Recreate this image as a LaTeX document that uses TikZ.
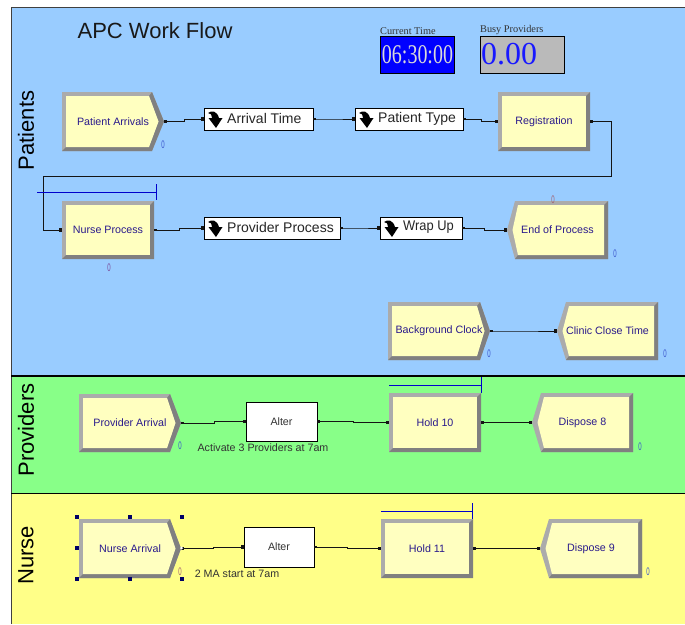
\documentclass[tikz,border=0pt]{standalone}
\usepackage{fontspec}
\setmainfont{Liberation Sans}
\newfontfamily\timesf{Liberation Serif}
\usetikzlibrary{arrows.meta}
\definecolor{panelblue}{HTML}{99CCFF}
\definecolor{panelgreen}{HTML}{88FF88}
\definecolor{panelyellow}{HTML}{FFFF88}
\definecolor{blockyellow}{HTML}{FFFFC0}
\definecolor{bevlight}{HTML}{ABABAB}
\definecolor{bevdark}{HTML}{808080}
\definecolor{blocktext}{HTML}{2A1A8C}
\definecolor{wire}{HTML}{141414}
\definecolor{countblue}{HTML}{3A55CC}
\definecolor{countpurple}{HTML}{7A4A9A}
\definecolor{countred}{HTML}{A06070}
\tikzset{
  blocklabel/.style={inner sep=0pt,outer sep=0pt,font=\fontsize{10.7}{12}\selectfont,text=blocktext},
  databox/.style={draw=black,line width=0.8pt,fill=white,inner sep=0pt,outer sep=0pt},
  alterbox/.style={draw=black,line width=0.8pt,fill=white,inner sep=0pt,outer sep=0pt,font=\fontsize{10.7}{12}\selectfont,text=black!80},
  lanelabel/.style={rotate=90,font=\fontsize{22}{26}\selectfont,text=black,inner sep=0pt},
  notetext/.style={font=\fontsize{10.7}{12}\selectfont,text=black!80,inner sep=0pt},
  toplabel/.style={font=\timesf\fontsize{10.3}{12}\selectfont,text=black!80,inner sep=0pt,anchor=south west},
  wireline/.style={draw=wire,line width=0.95pt,{Square[length=2.5pt,width=2.5pt]}-{Square[length=3.5pt,width=3.5pt]}},
  queueline/.style={draw=blue!80!black,line width=0.9pt},
  handle/.style={fill=blue!40!black,minimum size=3.6pt,inner sep=0pt},
  counterblue/.style={text=countblue,font=\fontsize{11}{12}\selectfont,inner sep=0pt},
  counterpurple/.style={text=countpurple,font=\fontsize{11}{12}\selectfont,inner sep=0pt},
  counterred/.style={text=countred,font=\fontsize{11}{12}\selectfont,inner sep=0pt},
}
% name, x1, y1, x2, y2, label
\newcommand{\procblk}[6]{%
  \fill[bevlight] (#2,#3) rectangle (#4,#5);
  \fill[bevdark] (#4,#3) -- (#4,#5) -- (#2,#5) -- ({#2+4},{#5-4}) -- ({#4-4},{#5-4}) -- ({#4-4},{#3+4}) -- cycle;
  \fill[blockyellow] ({#2+4},{#3+4}) rectangle ({#4-4},{#5-4});
  \node[blocklabel,minimum width={(#4-#2)*1pt},minimum height={(#5-#3)*1pt}] (#1) at ({(#2+#4)/2},{(#3+#5)/2}) {#6};
}
% name, x1, y1, body end, tip x, y2, label
\newcommand{\createblk}[7]{%
  \fill[bevlight] (#2,#3) -- (#4,#3) -- (#5,{(#3+#6)/2}) -- (#4,#6) -- (#2,#6) -- cycle;
  \fill[bevdark] (#4,#3) -- (#5,{(#3+#6)/2}) -- (#4,#6) -- (#2,#6) -- ({#2+4},{#6-4}) -- ({#4-3},{#6-4}) -- ({#5-5.5},{(#3+#6)/2}) -- ({#4-3},{#3+4}) -- cycle;
  \fill[blockyellow] ({#2+4},{#3+4}) -- ({#4-3},{#3+4}) -- ({#5-5.5},{(#3+#6)/2}) -- ({#4-3},{#6-4}) -- ({#2+4},{#6-4}) -- cycle;
  \node[blocklabel,minimum width={(#5-#2)*1pt},minimum height={(#6-#3)*1pt}] (#1) at ({(#2+#5)/2},{(#3+#6)/2}) {#7};
}
% name, tip x, y1, body start, x2, y2, label
\newcommand{\disposeblk}[7]{%
  \fill[bevlight] (#2,{(#3+#6)/2}) -- (#4,#3) -- (#5,#3) -- (#5,#6) -- (#4,#6) -- cycle;
  \fill[bevdark] (#5,#3) -- (#5,#6) -- (#4,#6) -- ({#4+3},{#6-4}) -- ({#5-4},{#6-4}) -- ({#5-4},{#3+4}) -- cycle;
  \fill[blockyellow] ({#2+5.5},{(#3+#6)/2}) -- ({#4+3},{#3+4}) -- ({#5-4},{#3+4}) -- ({#5-4},{#6-4}) -- ({#4+3},{#6-4}) -- cycle;
  \node[blocklabel,minimum width={(#5-#2)*1pt},minimum height={(#6-#3)*1pt}] (#1) at ({(#2+#5)/2},{(#3+#6)/2}) {#7};
}
% name, x1, y1, x2, y2, label
\newcommand{\decidebox}[6]{%
  \node[databox,minimum width={(#4-#2)*1pt},minimum height={(#5-#3)*1pt}] (#1) at ({(#2+#4)/2},{(#3+#5)/2}) {};
  \fill[black] ({#2+4},{(#3+#5)/2-6}) .. controls ({#2+8},{(#3+#5)/2-9}) and ({#2+13},{(#3+#5)/2-8}) .. ({#2+15},{(#3+#5)/2-1}) -- ({#2+18.5},{(#3+#5)/2-1}) -- ({#2+12},{(#3+#5)/2+9}) -- ({#2+4.5},{(#3+#5)/2-1}) -- ({#2+8},{(#3+#5)/2-1}) .. controls ({#2+8},{(#3+#5)/2-4}) and ({#2+7},{(#3+#5)/2-6}) .. cycle;
  \node[anchor=west,inner sep=0pt,font=\fontsize{14}{16}\selectfont,text=black!85] (#1-text) at ({#2+23},{(#3+#5)/2-0.5}) {#6};
}
% from, to, x of the jog
\newcommand{\wirejog}[3]{%
  \coordinate (jog) at (#3,0);
  \draw[wireline] (#1.east) -- (#1.east -| jog) -- (jog |- #2.west) -- (#2.west);
}
\newcommand{\narrowzero}{\scalebox{0.55}[1]{0}}
\begin{document}
\begin{tikzpicture}[x=1pt,y=-1pt]
\useasboundingbox (0,0) rectangle (685,624);
\fill[white] (0,0) rectangle (685,624);
% lanes
\fill[panelblue] (11,7) rectangle (685,376);
\fill[panelgreen] (11,376) rectangle (685,493);
\fill[panelyellow] (11,493) rectangle (685,624);
\draw[black!75,line width=0.9pt] (11,624) -- (11,7) -- (685,7);
\draw[black,line width=1.4pt] (11,376) -- (685,376);
\draw[black,line width=0.8pt] (11,493) -- (685,493);
% titles
\node[font=\fontsize{22}{26}\selectfont,text=black!90,inner sep=0pt] (title) at (155,31) {APC Work Flow};
\node[lanelabel] (lanepatients) at (26,130.5) {Patients};
\node[lanelabel] (laneproviders) at (26,430) {Providers};
\node[lanelabel] (lanenurse) at (26,555.5) {Nurse};
% displays
\node[toplabel] (curlabel) at (380,35) {Current Time};
\node[toplabel] (busylabel) at (480,35) {Busy Providers};
\node[draw=black,line width=0.8pt,fill=blue,inner sep=0pt,minimum width=74pt,minimum height=37pt,text=black!15,font=\timesf\fontsize{27}{30}\selectfont] (curtime) at (417.5,55) {\scalebox{0.74}[1]{06:30:00}};
\node[draw=black,line width=0.8pt,fill=black!27,inner sep=0pt,minimum width=84pt,minimum height=37pt] (busy) at (522,55) {};
\node[anchor=west,inner sep=0pt,text=blue!90!white,font=\timesf\fontsize{32}{34}\selectfont] (busyval) at (481,54) {0.00};
% blocks
\createblk{pa}{62}{92}{152}{164}{151}{Patient Arrivals}
\decidebox{at}{204}{108}{313}{130}{Arrival Time}
\decidebox{pt}{355}{108}{463}{130}{Patient Type}
\procblk{reg}{498}{92}{590}{151}{Registration}
\procblk{np}{62}{201}{154}{259}{Nurse Process}
\decidebox{pp}{204}{217}{340}{239}{Provider Process}
\decidebox{wu}{380}{217}{462}{239}{\scalebox{0.92}[1]{Wrap Up}}
\disposeblk{ep}{507}{201}{515}{608}{259}{End of Process}
\createblk{bc}{388}{302}{480}{490}{360}{Background Clock}
\disposeblk{cc}{557}{302}{566}{658}{360}{Clinic Close Time}
\createblk{prov}{79}{394}{170}{181}{452}{Provider Arrival}
\node[alterbox,minimum width=71pt,minimum height=39pt] (alt1) at (281.5,421.5) {Alter};
\procblk{h10}{389}{393}{481}{452}{Hold 10}
\disposeblk{d8}{532}{393}{541}{633}{452}{Dispose 8}
\createblk{na}{79}{519}{170}{181}{578}{Nurse Arrival}
\node[alterbox,minimum width=70pt,minimum height=40pt] (alt2) at (279,547) {Alter};
\procblk{h11}{381}{519}{473}{578}{Hold 11}
\disposeblk{d9}{540}{519}{549}{642}{578}{Dispose 9}
% connectors
\wirejog{pa}{at}{184}
\wirejog{at}{pt}{334}
\wirejog{pt}{reg}{481}
\coordinate (wireright) at (611,176);
\coordinate (wireleft) at (43,176);
\draw[wireline] (reg.east) -- (reg.east -| wireright) -- (wireright) -- (wireleft) -- (wireleft |- np.west) -- (np.west);
\wirejog{np}{pp}{179}
\wirejog{pp}{wu}{360}
\wirejog{wu}{ep}{484}
\wirejog{bc}{cc}{523}
\wirejog{prov}{alt1}{214}
\wirejog{alt1}{h10}{353}
\wirejog{h10}{d8}{506}
\wirejog{na}{alt2}{213}
\wirejog{alt2}{h11}{347}
\wirejog{h11}{d9}{510}
% queues
\coordinate (qa) at (37,192);
\coordinate (qb) at (156,192);
\draw[queueline] (qa) -- (qb) (156,184) -- (156,200);
\coordinate (qc) at (389,385);
\coordinate (qd) at (481,385);
\draw[queueline] (qc) -- (qd) (481,377) -- (481,393);
\coordinate (qe) at (381,511);
\coordinate (qf) at (472.5,511);
\draw[queueline] (qe) -- (qf) (472.5,503) -- (472.5,519);
% notes
\node[notetext] (note1) at (263,448) {Activate 3 Providers at 7am};
\node[notetext] (note2) at (237,574) {2 MA start at 7am};
% counters
\node[counterblue] (c1) at (163,145) {\narrowzero};
\node[counterpurple] (c2) at (109,268) {\narrowzero};
\node[counterred] (c3) at (553,200) {\narrowzero};
\node[counterblue] (c4) at (615,254) {\narrowzero};
\node[counterblue] (c5) at (489,354) {\narrowzero};
\node[counterblue] (c6) at (665,354) {\narrowzero};
\node[counterblue] (c7) at (180,446) {\narrowzero};
\node[counterblue] (c8) at (640,447) {\narrowzero};
\node[counterred] (c9) at (180,572) {\narrowzero};
\node[counterblue] (c10) at (648,572) {\narrowzero};
% selection handles
\foreach \hx/\hy/\hn in {77/517/a,130/517/b,182/517/c,77/548/d,77/579/e,130/579/f,182/579/g}
  \node[handle] (hnd\hn) at (\hx,\hy) {};
\fill[white] (181.5,548) circle (1.5pt);
\end{tikzpicture}
\end{document}
